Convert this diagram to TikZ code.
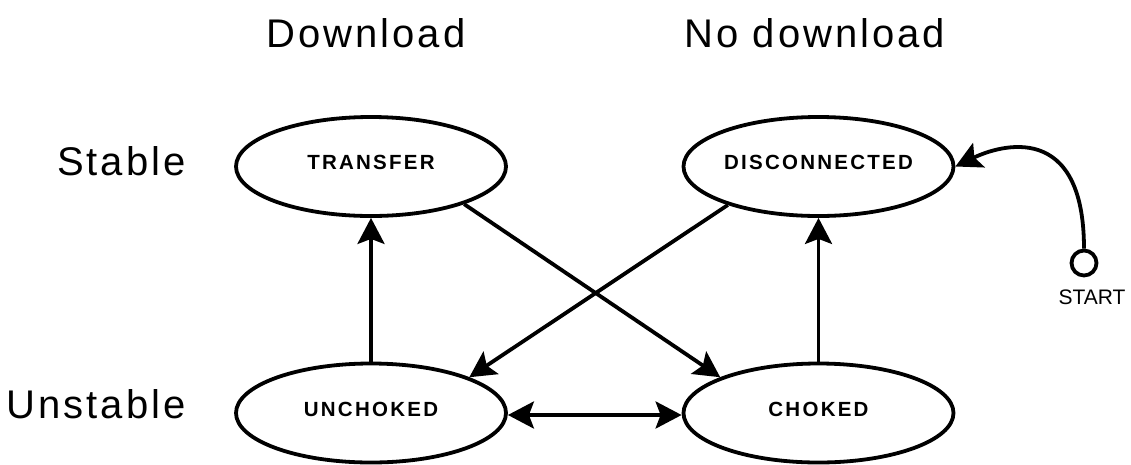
\documentclass[tikz,border=0pt]{standalone}
\usepackage{fontspec}
\setmainfont{Liberation Sans}
\newfontfamily\hdrfont[LetterSpace=7.5]{Liberation Sans}
\newfontfamily\stfont[LetterSpace=11]{Liberation Sans}
\usetikzlibrary{arrows.meta,shapes.geometric}
\begin{document}
\begin{tikzpicture}[x=1pt,y=-1pt,
  state/.style={ellipse,draw,line width=3.8pt,minimum width=270pt,minimum height=99pt,inner sep=0pt,text depth=8pt,font=\stfont\fontsize{20.5}{22}\selectfont\bfseries},
  hdr/.style={font=\hdrfont\fontsize{40}{44}\selectfont},
  tip/.tip={Stealth[length=26pt,width=27pt,inset=5pt]},
  arr/.style={line width=3.8pt,-tip},
  darr/.style={line width=3.8pt,tip-tip},
  startnode/.style={circle,draw,line width=3.8pt,minimum size=25pt,inner sep=0pt}]
\useasboundingbox (0,0) rectangle (1131,464);
\node[hdr,anchor=base] (hd) at (366,47) {Download};
\node[hdr,anchor=base] (hn) at (815,47) {No download};
\node[hdr,anchor=base east] (hs) at (189,175) {Stable};
\node[hdr,anchor=base east] (hu) at (189,418) {Unstable};
\node[state] (T) at (371,166.5) {TRANSFER};
\node[state] (D) at (818.5,166.5) {DISCONNECTED};
\node[state] (U) at (371,413) {UNCHOKED};
\node[state] (C) at (818.5,413) {CHOKED};
\node[startnode] (S) at (1084,263) {};
\node[anchor=base,font=\fontsize{21}{24}\selectfont] (SL) at (1092,304) {START};
\draw[arr] (U.north) -- (T.south);
\draw[arr] (C.north) -- (D.south);
\draw[arr] (T.-22) -- (C.160);
\draw[arr] (D.-157) -- (U.20);
\draw[darr] ([yshift=-2pt]U.east) -- ([yshift=-2pt]C.west);
\draw[arr] (S.north) .. controls (1084,120) and (1000,145) .. (D.east);
\end{tikzpicture}
\end{document}
